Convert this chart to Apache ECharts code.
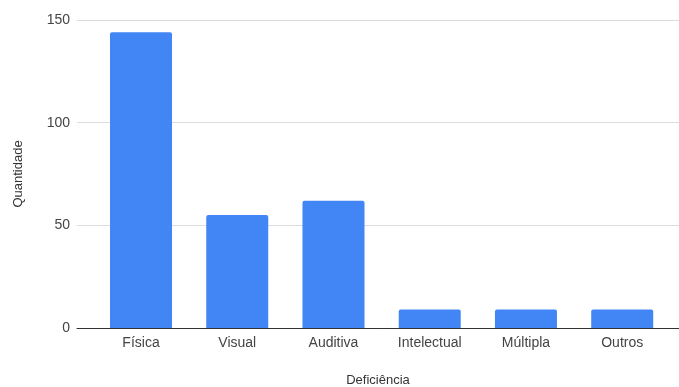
<!DOCTYPE html>
<html>
<head>
<meta charset="utf-8">
<script src="https://cdn.jsdelivr.net/npm/echarts@6/dist/echarts.min.js"></script>
<style>html,body{margin:0;padding:0;background:#fff}#c{width:679px;height:387px}</style>
</head>
<body>
<div id="c"></div>
<script>
const categories = ['Física', 'Visual', 'Auditiva', 'Intelectual', 'Múltipla', 'Outros'];
const values = [144, 55, 62, 9, 9, 9];
const yTicks = [0, 50, 100, 150];

const chart = echarts.init(document.getElementById('c'));
const font = 'Liberation Sans, Arial, sans-serif';
chart.setOption({
  animation: false,
  grid: { left: 77, right: 0, top: 20, bottom: 59, outerBoundsMode: 'none', containLabel: false },
  xAxis: {
    type: 'value',
    min: -0.665,
    max: 5.59,
    name: 'Deficiência',
    nameLocation: 'middle',
    nameGap: 46,
    nameTextStyle: { color: '#333', fontSize: 13, fontFamily: font },
    axisLine: { show: true, lineStyle: { color: '#333', width: 1 } },
    axisTick: { show: false },
    splitLine: { show: false },
    axisLabel: {
      customValues: categories.map((c, i) => i),
      formatter: v => categories[Math.round(v)],
      color: '#444', fontSize: 14, fontFamily: font, margin: 8
    }
  },
  yAxis: {
    type: 'value',
    min: yTicks[0],
    max: yTicks[yTicks.length - 1],
    interval: 50,
    name: 'Quantidade',
    nameLocation: 'middle',
    nameGap: 52,
    nameTextStyle: { color: '#333', fontSize: 13, fontFamily: font },
    axisLine: { show: false },
    axisTick: { show: false },
    splitLine: { lineStyle: { color: '#dcdcdc', width: 1 } },
    axisLabel: { color: '#444', fontSize: 14, fontFamily: font, margin: 7 }
  },
  series: [{
    type: 'bar',
    data: values.map((v, i) => [i, v]),
    barWidth: 62,
    itemStyle: { color: '#4285F4', borderRadius: [2, 2, 0, 0] }
  }]
});
</script>
</body>
</html>
